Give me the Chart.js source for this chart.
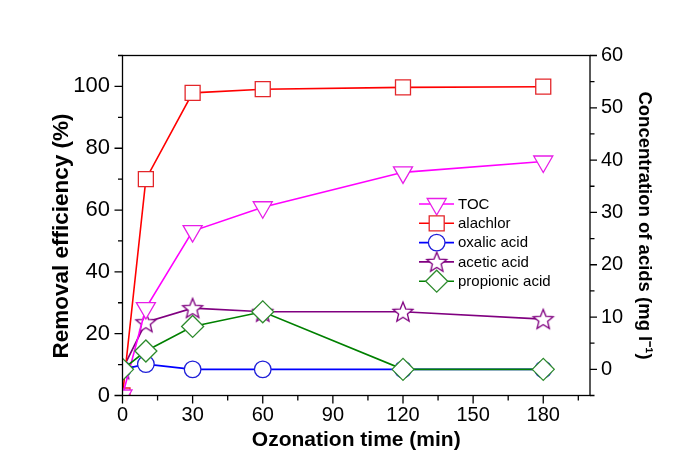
<!DOCTYPE html>
<html>
<head>
<meta charset="utf-8">
<script src="https://cdn.jsdelivr.net/npm/chart.js@4.4.1/dist/chart.umd.min.js"></script>
<style>
  html, body { margin: 0; padding: 0; background: #fff; }
  #wrap { width: 685px; height: 475px; }
</style>
</head>
<body>
<div id="wrap"><canvas id="chart" width="685" height="475"></canvas></div>
<script>
// time axis (min)
const tempo = [0, 10, 30, 60, 120, 180];
// removal efficiency (%) - left axis
const toc = [0, 28.3, 53.2, 60.9, 72.2, 75.7];
const alachlor = [0, 70.0, 97.9, 99.1, 99.7, 99.9];
// concentration of acids (mg l-1) - right axis
const oxalic = [0, 1.0, 0, 0, 0, 0];
const acetic = [0, 9.0, 11.7, 11.0, 11.0, 9.6];
const propionic = [0, 3.5, 8.2, 11.0, 0, 0];

const xTicks = [0, 30, 60, 90, 120, 150, 180];
const leftTicks = [0, 20, 40, 60, 80, 100];
const rightTicks = [0, 10, 20, 30, 40, 50, 60];

const FONT = "'Liberation Sans', Arial, sans-serif";

function pontos(ys) {
    return tempo.map((t, i) => ({ x: t, y: ys[i] }));
}

function criarEstrela(cor) {
    const c = document.createElement('canvas');
    c.width = 26; c.height = 26;
    const g = c.getContext('2d');
    const R = 10.5, r = 4.6;
    g.beginPath();
    for (let k = 0; k < 10; k++) {
        const ang = -Math.PI / 2 + k * Math.PI / 5;
        const rr = k % 2 === 0 ? R : r;
        const px = 13 + rr * Math.cos(ang), py = 13.8 + rr * Math.sin(ang);
        if (k === 0) g.moveTo(px, py); else g.lineTo(px, py);
    }
    g.closePath();
    g.fillStyle = '#fff';
    g.fill();
    g.lineWidth = 1.3;
    g.strokeStyle = cor;
    g.stroke();
    return c;
}

const estrela = criarEstrela('#800080');

const series = [
    { label: 'TOC', data: pontos(toc), eixo: 'y', cor: '#ff00ff', marca: '#e81ee8', estilo: 'triangle', rot: 180, raio: 11, ordem: 0 },
    { label: 'alachlor', data: pontos(alachlor), eixo: 'y', cor: '#ff0000', marca: '#e3262a', estilo: 'rect', rot: 0, raio: 10.6, ordem: 0 },
    { label: 'oxalic acid', data: pontos(oxalic), eixo: 'y2', cor: '#0000ff', marca: '#2020d8', estilo: 'circle', rot: 0, raio: 8.3, ordem: 0 },
    { label: 'acetic acid', data: pontos(acetic), eixo: 'y2', cor: '#800080', marca: '#800080', estilo: estrela, rot: 0, raio: 10, ordem: 0 },
    { label: 'propionic acid', data: pontos(propionic), eixo: 'y2', cor: '#008000', marca: '#2e8b2e', estilo: 'rectRot', rot: 0, raio: 11, ordem: -1 }
];

const datasets = series.map(s => ({
    label: s.label,
    data: s.data,
    yAxisID: s.eixo,
    order: s.ordem,
    borderColor: s.cor,
    borderWidth: 1.6,
    pointStyle: s.estilo,
    pointRotation: s.rot,
    pointRadius: s.raio,
    pointBorderColor: s.marca,
    pointBorderWidth: 1.3,
    pointBackgroundColor: '#fff',
    tension: 0,
    clip: 0
}));

// frame + major/minor tick marks
const molduraPlugin = {
    id: 'moldura',
    afterDatasetsDraw(chart) {
        const { ctx, chartArea: a, scales } = chart;
        ctx.save();
        ctx.strokeStyle = '#000';
        ctx.lineWidth = 1.3;
        ctx.strokeRect(a.left, a.top, a.right - a.left, a.bottom - a.top);
        ctx.beginPath();
        for (let v = 0; v <= 195; v += 15) {
            const px = scales.x.getPixelForValue(v);
            const len = v % 30 === 0 ? 8 : 5;
            ctx.moveTo(px, a.bottom); ctx.lineTo(px, a.bottom + len);
        }
        for (let v = 0; v <= 110; v += 10) {
            const py = scales.y.getPixelForValue(v);
            const len = v % 20 === 0 ? 8 : 4.5;
            ctx.moveTo(a.left, py); ctx.lineTo(a.left - len, py);
        }
        for (let v = -5; v <= 60; v += 5) {
            const py = scales.y2.getPixelForValue(v);
            const len = v % 10 === 0 ? 7 : 4.5;
            ctx.moveTo(a.right, py); ctx.lineTo(a.right + len, py);
        }
        ctx.stroke();

        // left axis title, drawn by hand so it can sit a little lower
        ctx.translate(62, 236);
        ctx.rotate(-Math.PI / 2);
        ctx.font = 'bold 22.5px ' + FONT;
        ctx.fillStyle = '#000';
        ctx.textAlign = 'center';
        ctx.textBaseline = 'middle';
        ctx.fillText('Removal efficiency (%)', 0, 0);
        ctx.restore();
    }
};

function desenharMarca(ctx, s, x, y) {
    ctx.save();
    ctx.lineWidth = 1.3;
    ctx.strokeStyle = s.marca;
    ctx.fillStyle = '#fff';
    const r = s.raio;
    ctx.beginPath();
    if (s.estilo === 'triangle') {
        ctx.moveTo(x, y + r);
        ctx.lineTo(x + r * Math.sin(Math.PI / 3), y - r / 2);
        ctx.lineTo(x - r * Math.sin(Math.PI / 3), y - r / 2);
        ctx.closePath();
    } else if (s.estilo === 'rect') {
        const h = r * Math.SQRT1_2;
        ctx.rect(x - h, y - h, 2 * h, 2 * h);
    } else if (s.estilo === 'circle') {
        ctx.arc(x, y, r, 0, Math.PI * 2);
    } else if (s.estilo === 'rectRot') {
        ctx.moveTo(x - r, y); ctx.lineTo(x, y - r); ctx.lineTo(x + r, y); ctx.lineTo(x, y + r);
        ctx.closePath();
    } else {
        ctx.drawImage(s.estilo, x - s.estilo.width / 2, y - s.estilo.height / 2);
        ctx.restore();
        return;
    }
    ctx.fill();
    ctx.stroke();
    ctx.restore();
}

const legendaPlugin = {
    id: 'legenda',
    afterDraw(chart) {
        const ctx = chart.ctx;
        const x0 = 419, x1 = 454, xm = 436.7, xt = 458;
        ctx.save();
        ctx.font = '15px ' + FONT;
        ctx.textBaseline = 'middle';
        ctx.fillStyle = '#000';
        series.forEach((s, i) => {
            const y = 204 + i * 19.3;
            ctx.strokeStyle = s.cor;
            ctx.lineWidth = 1.6;
            ctx.beginPath();
            ctx.moveTo(x0, y); ctx.lineTo(x1, y);
            ctx.stroke();
            desenharMarca(ctx, s, xm, y);
            ctx.fillText(s.label, xt, y + 0.5);
        });
        ctx.restore();
    }
};

function fixarTicks(lista) {
    return function (scale) {
        scale.ticks = lista.map(v => ({ value: v }));
    };
}

const ctx = document.getElementById('chart').getContext('2d');
const chart = new Chart(ctx, {
    type: 'line',
    data: { datasets: datasets },
    options: {
        responsive: false,
        animation: false,
        layout: { padding: { top: 55.5, left: 0, right: 0, bottom: 0 } },
        plugins: { legend: { display: false }, tooltip: { enabled: false } },
        scales: {
            x: {
                type: 'linear',
                min: 0,
                max: 200,
                afterBuildTicks: fixarTicks(xTicks),
                afterFit: s => { s.height = 79.5; },
                grid: { display: false, drawTicks: false },
                border: { display: false },
                ticks: { color: '#000', padding: 8, font: { family: FONT, size: 20 } },
                title: {
                    display: true,
                    text: 'Ozonation time (min)',
                    color: '#000',
                    font: { family: FONT, size: 21, weight: 'bold' },
                    padding: { top: 0, bottom: 22.4 }
                }
            },
            y: {
                type: 'linear',
                position: 'left',
                min: 0,
                max: 110,
                afterBuildTicks: fixarTicks(leftTicks),
                afterFit: s => { s.width = 122.5; },
                grid: { display: false, drawTicks: false },
                border: { display: false },
                ticks: { color: '#000', padding: 12.5, font: { family: FONT, size: 22 } },
                title: { display: false }
            },
            y2: {
                type: 'linear',
                position: 'right',
                min: -5,
                max: 60,
                afterBuildTicks: fixarTicks(rightTicks),
                afterFit: s => { s.width = 95; },
                grid: { display: false, drawTicks: false },
                border: { display: false },
                ticks: { color: '#000', padding: 11, font: { family: FONT, size: 20 } },
                title: {
                    display: true,
                    text: 'Concentration of acids (mg l\u207B\u00B9)',
                    color: '#000',
                    font: { family: FONT, size: 18.5, weight: 'bold' },
                    padding: { top: 30, bottom: 0 }
                }
            }
        }
    },
    plugins: [molduraPlugin, legendaPlugin]
});
</script>
</body>
</html>
